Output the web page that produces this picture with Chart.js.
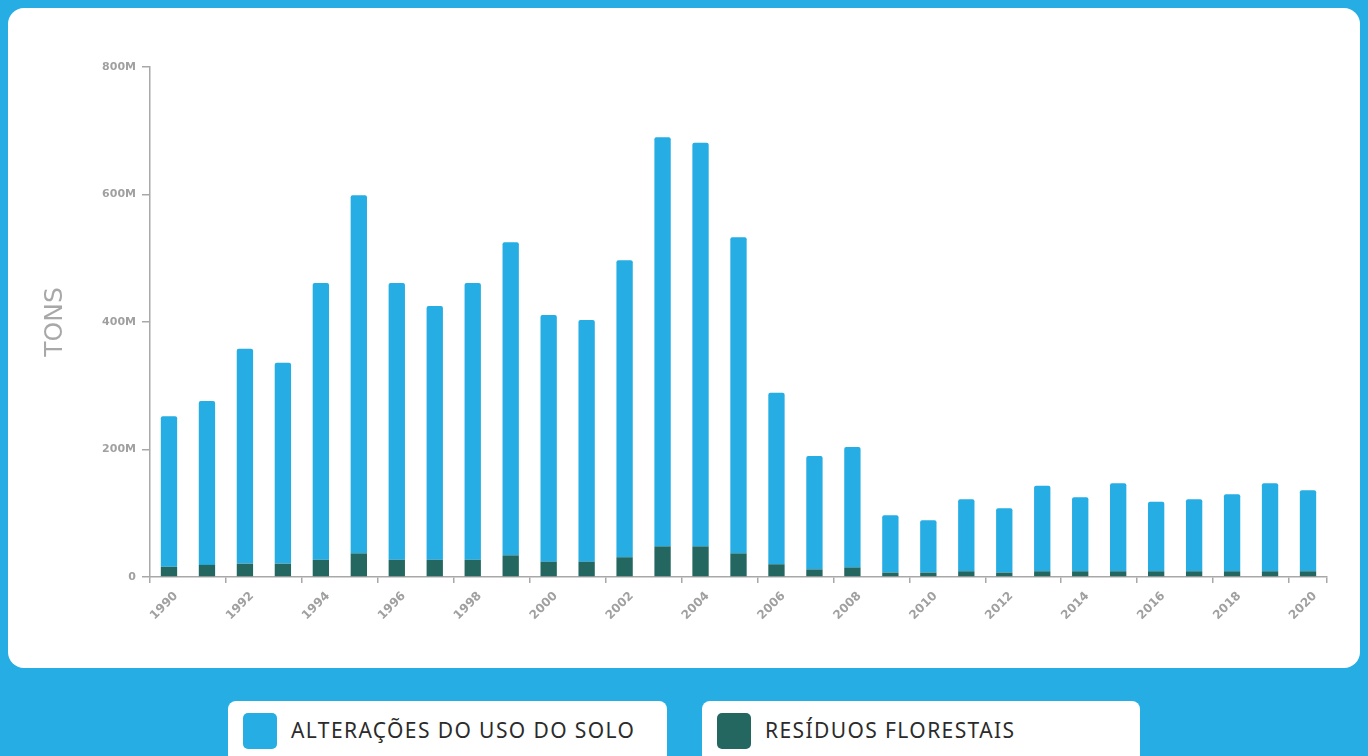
<!DOCTYPE html>
<html>
<head>
<meta charset="utf-8">
<script src="https://cdn.jsdelivr.net/npm/chart.js@4"></script>
<style>
  html,body{margin:0;padding:0;}
  body{width:1368px;height:756px;background:#25ade4;position:relative;overflow:hidden;font-family:'Noto Sans',Lato,sans-serif;}
  #card{position:absolute;left:8px;top:8px;width:1352px;height:660px;background:#fff;border-radius:16px;}
  #card canvas{position:absolute;left:0;top:0;}
  .leg{position:absolute;top:701px;height:70px;background:#fff;border-radius:8px;}
  .leg .sw{position:absolute;left:15px;top:12px;width:34px;height:36px;border-radius:5px;}
  .leg span{position:absolute;left:63px;top:15px;font-size:21px;color:#2b2b2b;letter-spacing:1.4px;white-space:nowrap;}
</style>
</head>
<body>
<div id="card"><canvas id="chart" width="1352" height="660"></canvas></div>
<div class="leg" style="left:228px;width:439px;"><div class="sw" style="background:#25ade4"></div><span>ALTERAÇÕES DO USO DO SOLO</span></div>
<div class="leg" style="left:702px;width:438px;"><div class="sw" style="background:#246760"></div><span>RESÍDUOS FLORESTAIS</span></div>
<script>
'use strict';
var years=['1990','1991','1992','1993','1994','1995','1996','1997','1998','1999','2000','2001','2002','2003','2004','2005','2006','2007','2008','2009','2010','2011','2012','2013','2014','2015','2016','2017','2018','2019','2020'];
// millions of tons
var residuos=[16,19,21,21,27,37,27,27,27,34,24,24,31,48,48,37,20,12,15,7,7,9,7,9,9,9,9,9,9,9,9];
var alteracoes=[236,257,337,315,434,562,434,398,434,491,387,379,466,642,633,496,269,178,189,90,82,113,101,134,116,138,109,113,121,138,127];
var yTicks=[0,200,400,600,800];

var gray='#a8a8a8';
var ctx=document.getElementById('chart');
var chart=new Chart(ctx,{
  type:'bar',
  data:{
    labels:years,
    datasets:[
      {label:'RESÍDUOS FLORESTAIS',data:residuos,backgroundColor:'#246760',barPercentage:0.43,categoryPercentage:1},
      {label:'ALTERAÇÕES DO USO DO SOLO',data:alteracoes,backgroundColor:'#25ade4',barPercentage:0.43,categoryPercentage:1,borderRadius:{topLeft:2,topRight:2}}
    ]
  },
  options:{
    responsive:false,
    animation:false,
    layout:{padding:{left:32,right:33,top:59,bottom:31}},
    plugins:{legend:{display:false},tooltip:{enabled:false}},
    scales:{
      x:{
        stacked:true,
        afterFit:function(s){s.height=60;},
        border:{color:gray,width:1.5},
        grid:{drawOnChartArea:false,tickLength:6,lineWidth:1.5,color:function(c){return c.index%2?'rgba(0,0,0,0)':gray;}},
        ticks:{
          autoSkip:false,minRotation:45,maxRotation:45,padding:6,labelOffset:7,
          color:'#a0a0a0',font:{family:'DejaVu Sans',size:12,weight:'600'},
          callback:function(v,i){return i%2?'':years[i];}
        }
      },
      y:{
        stacked:true,min:0,max:800,
        afterFit:function(s){s.width=110;},
        afterBuildTicks:function(s){s.ticks=yTicks.map(function(v){return {value:v};});},
        border:{color:gray,width:1.5},
        grid:{drawOnChartArea:false,tickLength:8,lineWidth:1.5,color:gray},
        title:{display:true,text:'TONS',color:'#a8a8a8',padding:0,font:{family:'DejaVu Sans',size:25,weight:'normal'}},
        ticks:{
          padding:6,color:'#a0a0a0',font:{family:'DejaVu Sans',size:11,weight:'600'},
          callback:function(v){return v===0?'0':v+'M';}
        }
      }
    }
  }
});
</script>
</body>
</html>
